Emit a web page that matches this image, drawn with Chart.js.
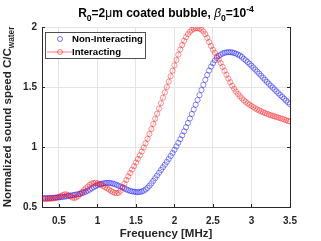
<!DOCTYPE html>
<html><head><meta charset="utf-8">
<script src="https://cdn.jsdelivr.net/npm/chart.js@4.4.1/dist/chart.umd.min.js"></script>
<style>html,body{margin:0;padding:0;background:#fff;}canvas{display:block;}</style>
</head><body>
<canvas id="c" width="321" height="241"></canvas>
<script>
const freq = [0.3,0.325,0.35,0.375,0.4,0.425,0.45,0.475,0.5,0.525,0.55,0.575,0.6,0.625,0.65,0.675,0.7,0.725,0.75,0.775,0.8,0.825,0.85,0.875,0.9,0.925,0.95,0.975,1,1.025,1.05,1.075,1.1,1.125,1.15,1.175,1.2,1.225,1.25,1.275,1.3,1.325,1.35,1.375,1.4,1.425,1.45,1.475,1.5,1.525,1.55,1.575,1.6,1.625,1.65,1.675,1.7,1.725,1.75,1.775,1.8,1.825,1.85,1.875,1.9,1.925,1.95,1.975,2,2.025,2.05,2.075,2.1,2.125,2.15,2.175,2.2,2.225,2.25,2.275,2.3,2.325,2.35,2.375,2.4,2.425,2.45,2.475,2.5,2.525,2.55,2.575,2.6,2.625,2.65,2.675,2.7,2.725,2.75,2.775,2.8,2.825,2.85,2.875,2.9,2.925,2.95,2.975,3,3.025,3.05,3.075,3.1,3.125,3.15,3.175,3.2,3.225,3.25,3.275,3.3,3.325,3.35,3.375,3.4,3.425,3.45,3.475,3.5];

const nonInteracting = [
0.575,0.575,0.575,0.575,0.576,0.577,0.578,0.579,0.580,0.582,
0.584,0.586,0.589,0.592,0.595,0.598,0.601,0.604,0.607,0.611,
0.616,0.621,0.628,0.636,0.645,0.655,0.665,0.674,0.682,0.688,
0.693,0.697,0.700,0.701,0.701,0.699,0.695,0.690,0.684,0.677,
0.670,0.662,0.655,0.647,0.640,0.634,0.630,0.627,0.625,0.624,
0.625,0.629,0.636,0.646,0.660,0.677,0.697,0.718,0.740,0.763,
0.786,0.809,0.831,0.853,0.876,0.900,0.925,0.950,0.977,1.005,
1.035,1.065,1.097,1.130,1.165,1.200,1.237,1.275,1.313,1.352,
1.392,1.432,1.475,1.518,1.560,1.600,1.637,1.670,1.698,1.722,
1.742,1.758,1.770,1.779,1.785,1.789,1.790,1.790,1.788,1.784,
1.778,1.770,1.761,1.751,1.735,1.722,1.708,1.693,1.677,1.661,
1.645,1.628,1.611,1.594,1.577,1.560,1.543,1.527,1.511,1.495,
1.479,1.463,1.447,1.432,1.417,1.402,1.387,1.372,1.357];

const interacting = [
0.567,0.567,0.568,0.569,0.570,0.572,0.575,0.579,0.585,0.592,
0.600,0.606,0.604,0.598,0.588,0.578,0.575,0.580,0.592,0.608,
0.625,0.640,0.655,0.670,0.685,0.695,0.700,0.702,0.698,0.692,
0.685,0.675,0.665,0.655,0.645,0.634,0.625,0.618,0.615,0.618,
0.635,0.665,0.695,0.725,0.755,0.783,0.812,0.840,0.870,0.900,
0.930,0.962,0.995,1.030,1.068,1.108,1.150,1.192,1.235,1.278,
1.320,1.365,1.410,1.455,1.500,1.545,1.590,1.635,1.680,1.725,
1.770,1.812,1.850,1.885,1.915,1.940,1.960,1.975,1.985,1.990,
1.990,1.987,1.978,1.962,1.940,1.910,1.875,1.842,1.810,1.785,
1.755,1.728,1.700,1.668,1.635,1.602,1.570,1.540,1.510,1.485,
1.462,1.442,1.423,1.406,1.390,1.376,1.363,1.352,1.342,1.332,
1.322,1.313,1.305,1.297,1.290,1.283,1.277,1.271,1.265,1.260,
1.255,1.250,1.245,1.240,1.235,1.229,1.223,1.217,1.212];

const seriesLabels = ['Non-Interacting', 'Interacting'];
const xTicks = [0.5, 1, 1.5, 2, 2.5, 3, 3.5];
const yTicks = [0.5, 1, 1.5, 2];

const FONT = '"Liberation Sans", Arial, sans-serif';
const AXIS = '#262626';
const BLUE = 'rgba(0,0,255,0.7)';
const RED = 'rgba(255,0,0,0.65)';

function drawRich(ctx, segs, x, y, size) {
  let w = 0;
  const fontOf = s => {
    const sz = (s.sub || s.sup) ? size * 0.72 : size;
    return (s.italic ? 'italic ' : '') + (s.normal ? 'normal ' : 'bold ') + sz + 'px ' + FONT;
  };
  segs.forEach(s => { ctx.font = fontOf(s); w += ctx.measureText(s.t).width; });
  let cx = x - w / 2;
  ctx.textAlign = 'left';
  ctx.textBaseline = 'alphabetic';
  segs.forEach(s => {
    ctx.font = fontOf(s);
    let dy = 0;
    if (s.sub) dy = size * 0.3;
    if (s.sup) dy = -size * 0.42;
    ctx.fillText(s.t, cx, y + dy);
    cx += ctx.measureText(s.t).width;
  });
}

const decor = {
  id: 'decor',
  afterDraw(chart) {
    const ctx = chart.ctx;
    const a = chart.chartArea;
    const xs = chart.scales.x, ys = chart.scales.y;
    ctx.save();
    ctx.strokeStyle = AXIS; ctx.lineWidth = 1;
    ctx.beginPath();
    ctx.moveTo(a.right + 0.5, a.top); ctx.lineTo(a.right + 0.5, a.bottom);
    ctx.stroke();
    ctx.beginPath();
    xTicks.forEach(v => { const px = Math.round(xs.getPixelForValue(v)) + 0.5; ctx.moveTo(px, a.bottom); ctx.lineTo(px, a.bottom - 3); });
    yTicks.forEach(v => { const py = Math.round(ys.getPixelForValue(v)) + 0.5;
      ctx.moveTo(a.left, py); ctx.lineTo(a.left + 3, py);
      ctx.moveTo(a.right, py); ctx.lineTo(a.right - 3, py); });
    ctx.stroke();

    ctx.fillStyle = '#000';
    drawRich(ctx, [
      {t:'R'},{t:'0',sub:1},{t:'=2'},{t:'\u03bc',normal:1},{t:'m coated bubble, '},
      {t:'\u03b2',italic:1,normal:1},{t:'0',sub:1},{t:'=10'},{t:'-4',sup:1}
    ], (a.left + a.right) / 2, 17, 12);
    ctx.font = 'bold 11.5px ' + FONT;
    ctx.textAlign = 'center'; ctx.textBaseline = 'alphabetic';
    ctx.fillStyle = '#262626';
    ctx.fillText('Frequency [MHz]', (a.left + a.right) / 2, 237);
    ctx.save();
    ctx.translate(11, (a.top + a.bottom) / 2);
    ctx.rotate(-Math.PI / 2);
    ctx.fillStyle = '#262626';
    drawRich(ctx, [{t:'Normalized sound speed C/C'},{t:'water',sub:1}], 0, 0, 11.5);
    ctx.restore();

    const lx = 45.5, ly = 32.5, lw = 100, lh = 26;
    ctx.fillStyle = '#fff';
    ctx.fillRect(lx, ly, lw, lh);
    ctx.strokeStyle = AXIS; ctx.lineWidth = 0.8;
    ctx.strokeRect(lx, ly, lw, lh);
    const ds = chart.data.datasets;
    const rows = [39, 52];
    ds.forEach((d, i) => {
      const yy = rows[i];
      ctx.strokeStyle = d.borderColor; ctx.lineWidth = 0.8;
      if (d.showLine) { ctx.beginPath(); ctx.moveTo(47, yy); ctx.lineTo(72, yy); ctx.stroke(); }
      ctx.beginPath(); ctx.arc(60, yy, 2.5, 0, Math.PI * 2); ctx.stroke();
      ctx.fillStyle = '#000';
      ctx.font = 'bold 9.6px ' + FONT;
      ctx.textAlign = 'left'; ctx.textBaseline = 'middle';
      ctx.fillText(d.label, 72, yy + 0.5);
    });
    ctx.restore();
  }
};

const toPts = vals => freq.map((f, i) => ({x: f, y: vals[i]}));

new Chart(document.getElementById('c'), {
  type: 'scatter',
  data: {
    datasets: [
      { label: seriesLabels[0], data: toPts(nonInteracting), showLine: false,
        borderColor: BLUE, backgroundColor: 'rgba(0,0,0,0)', pointRadius: 2.6,
        pointBorderWidth: 0.65, pointBackgroundColor: 'rgba(0,0,0,0)', order: 1 },
      { label: seriesLabels[1], data: toPts(interacting), showLine: true, borderWidth: 0.4,
        borderColor: RED, backgroundColor: 'rgba(0,0,0,0)', pointRadius: 2.6,
        pointBorderWidth: 0.65, pointBackgroundColor: 'rgba(0,0,0,0)', order: 0 }
    ]
  },
  options: {
    responsive: false, animation: false, devicePixelRatio: 1,
    layout: { padding: { left: 0, top: 27, right: 31, bottom: 0 } },
    plugins: { legend: { display: false }, tooltip: { enabled: false }, title: { display: false } },
    scales: {
      x: {
        type: 'linear', min: 0.28, max: 3.5,
        afterBuildTicks: s => { s.ticks = xTicks.map(v => ({value: v})); },
        afterFit: s => { s.height = 34; },
        grid: { color: '#e4e4e4', drawTicks: false, lineWidth: 1 },
        border: { display: true, color: AXIS, width: 1 },
        ticks: { padding: 8, color: '#262626', font: { family: FONT, size: 10, weight: 'bold' },
                 callback: v => String(v), maxRotation: 0 }
      },
      y: {
        type: 'linear', min: 0.5, max: 2,
        afterBuildTicks: s => { s.ticks = yTicks.map(v => ({value: v})); },
        afterFit: s => { s.width = 42; },
        grid: { color: '#e4e4e4', drawTicks: false, lineWidth: 1 },
        border: { display: true, color: AXIS, width: 1 },
        ticks: { padding: 5, color: '#262626', font: { family: FONT, size: 10, weight: 'bold' },
                 callback: v => String(v) }
      }
    }
  },
  plugins: [decor]
});
</script>
</body></html>
